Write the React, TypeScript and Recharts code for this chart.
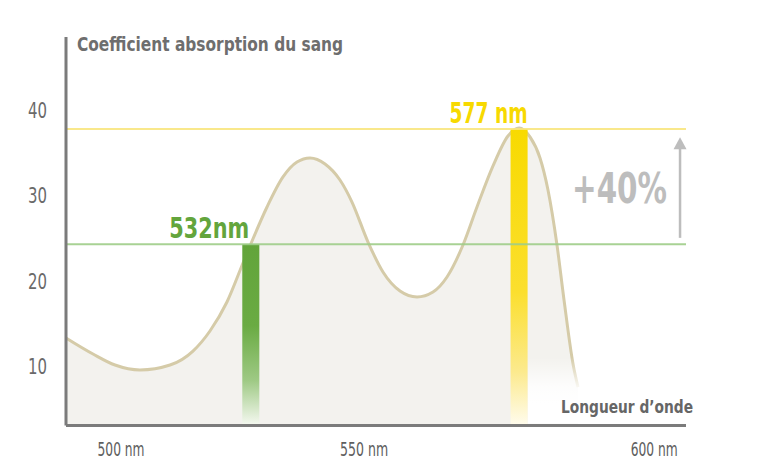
import React from 'react';
import {
  ComposedChart,
  Area,
  XAxis,
  YAxis,
  ReferenceArea,
  ReferenceLine,
} from 'recharts';

// curve: wavelength (nm) -> absorption
const wavelengths = [
  501.0, 505.53, 509.22, 513.41, 518.45, 522.3, 525.15, 528.0, 530.69, 532.0, 534.72, 537.4,
  539.75, 541.93, 544.45, 546.96, 548.97, 551.66, 554.17, 557.03, 559.88, 562.56, 564.91, 567.59,
  569.94, 572.63, 575.14, 577.0, 578.83, 580.51, 581.85, 583.36, 584.54, 586.05, 586.88,
];
const absorption = [
  13.26, 11.38, 10.09, 9.51, 10.09, 11.73, 14.08, 17.48, 22.05, 24.28, 28.62, 32.14, 33.89,
  34.36, 33.66, 31.78, 29.2, 24.51, 21.0, 18.77, 18.07, 18.65, 20.41, 24.16, 28.62, 33.43, 36.94,
  37.88, 36.83, 34.36, 30.61, 24.16, 17.71, 10.21, 7.51,
];

const laserNm = [532, 577];
const laserLevel = [24.25, 37.76];
const laserLabels = ['532nm', '577 nm'];

const yTicks = [10, 20, 30, 40];
const xTicks = [500, 550, 600];
const xTickLabels = ['500 nm', '550 nm', '600 nm'];

const gainLabel = '+40%';
const gainFrom = 25.0;
const gainTo = 36.8;
const gainNm = 604;

const X_DOMAIN: [number, number] = [501, 605];
const Y_DOMAIN: [number, number] = [3, 48.55];

const FONT = '"Liberation Sans Narrow", "DejaVu Sans Condensed", "Liberation Sans", Arial, sans-serif';
const AXIS_GREY = '#7b7b7b';
const LASER_COLORS = ['#63a53c', '#f7d900'];
const LASER_LINE_COLORS = ['#9fcd88', '#f8e67e'];
const LASER_GRADS = ['gradGreen', 'gradYellow'];
const LABEL_WIDTHS = [80, 78];
const LABEL_NUDGE = [-10, 0];
const BAR_HALF_NM = 1.43;
const X_TICK_NUDGE = [61, 6, -2];
const X_TICK_WIDTHS = [47, 48, 47];

const data = wavelengths.map((nm, i) => ({ nm, abs: absorption[i] }));

function YTick({ x, y, payload }: any) {
  return (
    <text
      x={x}
      y={y + 8}
      textAnchor="end"
      fill="#6a6a6a"
      fontFamily={FONT}
      fontSize={22}
      textLength={19}
      lengthAdjust="spacingAndGlyphs"
    >
      {payload.value}
    </text>
  );
}

function XTick({ x, y, payload, index }: any) {
  const i = xTicks.indexOf(payload.value);
  const idx = i >= 0 ? i : index;
  return (
    <text
      x={x + X_TICK_NUDGE[idx]}
      y={y + 22}
      textAnchor="middle"
      fill="#5e5e5e"
      fontFamily={FONT}
      fontSize={20}
      textLength={X_TICK_WIDTHS[idx]}
      lengthAdjust="spacingAndGlyphs"
    >
      {xTickLabels[idx]}
    </text>
  );
}

function GainArrow({ x1, y1, x2, y2 }: any) {
  const top = Math.min(y1, y2);
  const bottom = Math.max(y1, y2);
  return (
    <g>
      <line x1={x1} y1={bottom} x2={x2} y2={top + 10} stroke="#bdbdbd" strokeWidth={2.5} />
      <polygon points={`${x1 - 6.5},${top + 12} ${x1 + 6.5},${top + 12} ${x1},${top}`} fill="#bdbdbd" />
    </g>
  );
}

export default function App() {
  return (
    <div style={{ position: 'absolute', left: 0, top: 0, width: 757, height: 468, background: '#fff' }}>
      <ComposedChart
        width={757}
        height={468}
        data={data}
        margin={{ top: 37, right: 71, left: 10, bottom: 12.5 }}
      >
        <defs>
          <linearGradient id="gradGreen" x1="0" y1="0" x2="0" y2="1">
            <stop offset="0" stopColor="#62a43a" />
            <stop offset="0.45" stopColor="#6aab43" />
            <stop offset="0.75" stopColor="#9ec984" />
            <stop offset="1" stopColor="#f6f9f2" />
          </linearGradient>
          <linearGradient id="gradYellow" x1="0" y1="0" x2="0" y2="1">
            <stop offset="0" stopColor="#f8da00" />
            <stop offset="0.55" stopColor="#fbdf2e" />
            <stop offset="0.82" stopColor="#fcea8e" />
            <stop offset="1" stopColor="#fffcee" />
          </linearGradient>
          <linearGradient id="tailFade" x1="0" y1="0" x2="0" y2="1">
            <stop offset="0" stopColor="#ffffff" stopOpacity={0} />
            <stop offset="0.45" stopColor="#ffffff" stopOpacity={0.85} />
            <stop offset="0.7" stopColor="#ffffff" stopOpacity={1} />
            <stop offset="1" stopColor="#ffffff" stopOpacity={1} />
          </linearGradient>
        </defs>
        <XAxis
          dataKey="nm"
          type="number"
          domain={X_DOMAIN}
          allowDataOverflow
          ticks={xTicks}
          interval={0}
          height={30}
          tickLine={false}
          axisLine={{ stroke: AXIS_GREY, strokeWidth: 3 }}
          tick={<XTick />}
        />
        <YAxis
          type="number"
          domain={Y_DOMAIN}
          allowDataOverflow
          ticks={yTicks}
          width={56}
          tickLine={false}
          tickMargin={13}
          axisLine={{ stroke: AXIS_GREY, strokeWidth: 3 }}
          tick={<YTick />}
        />
        <Area
          type="monotone"
          dataKey="abs"
          stroke="#d5cba8"
          strokeWidth={3}
          fill="#f3f2ee"
          fillOpacity={1}
          isAnimationActive={false}
          dot={false}
          activeDot={false}
        />
        {/* the fill fades out to the right of the last laser line */}
        <ReferenceArea
          x1={laserNm[1] + BAR_HALF_NM}
          x2={592}
          y1={Y_DOMAIN[0] + 0.2}
          y2={11}
          fill="url(#tailFade)"
          fillOpacity={1}
          stroke="none"
        />
        {laserNm.map((nm, i) => (
          <ReferenceArea
            key={`bar-${nm}`}
            x1={nm - BAR_HALF_NM}
            x2={nm + BAR_HALF_NM}
            y1={Y_DOMAIN[0]}
            y2={laserLevel[i]}
            fill={`url(#${LASER_GRADS[i]})`}
            fillOpacity={1}
            stroke="none"
            ifOverflow="visible"
            label={(props: any) => {
              const vb = props.viewBox;
              return (
                <text
                  x={vb.x + vb.width + LABEL_NUDGE[i]}
                  y={vb.y - 6.5}
                  textAnchor="end"
                  fill={LASER_COLORS[i]}
                  fontFamily={FONT}
                  fontWeight="bold"
                  fontSize={29}
                  textLength={LABEL_WIDTHS[i]}
                  lengthAdjust="spacingAndGlyphs"
                >
                  {laserLabels[i]}
                </text>
              );
            }}
          />
        ))}
        {laserNm.map((nm, i) => (
          <ReferenceLine
            key={`line-${nm}`}
            y={laserLevel[i]}
            stroke={LASER_LINE_COLORS[i]}
            strokeWidth={2}
            strokeOpacity={0.9}
          />
        ))}
        <ReferenceLine
          segment={[
            { x: gainNm, y: gainFrom },
            { x: gainNm, y: gainTo },
          ]}
          shape={(p: any) => <GainArrow {...p} />}
        />
      </ComposedChart>
      <svg
        width={757}
        height={468}
        style={{ position: 'absolute', left: 0, top: 0, pointerEvents: 'none' }}
      >
        <text
          x={77}
          y={51}
          fill="#6e6e6e"
          fontFamily={FONT}
          fontWeight="bold"
          fontSize={20}
          textLength={266}
          lengthAdjust="spacingAndGlyphs"
        >
          Coefficient absorption du sang
        </text>
        <text
          x={561}
          y={413}
          fill="#666"
          fontFamily={FONT}
          fontWeight="bold"
          fontSize={17}
          textLength={132}
          lengthAdjust="spacingAndGlyphs"
        >
          Longueur d’onde
        </text>
        <text
          x={572}
          y={203}
          fill="#bdbdbd"
          fontFamily={FONT}
          fontWeight="bold"
          fontSize={43}
          textLength={95}
          lengthAdjust="spacingAndGlyphs"
        >
          {gainLabel}
        </text>
      </svg>
    </div>
  );
}
